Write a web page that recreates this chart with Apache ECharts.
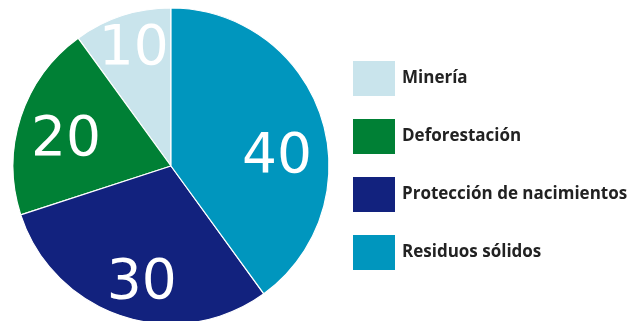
<!DOCTYPE html>
<html><head><meta charset="utf-8">
<script src="https://cdn.jsdelivr.net/npm/echarts@6/dist/echarts.min.js"></script>
<style>html,body{margin:0;padding:0;background:#fff}#c{width:639px;height:321px}</style>
</head><body><div id="c"></div>
<script>
const categories = ["Minería", "Deforestación", "Protección de nacimientos", "Residuos sólidos"];
const values = [10, 20, 30, 40];
const colors = ["#C9E4EC", "#008035", "#12227E", "#0096BE"];
const labelOffsets = [[-12, -38], [-27, 0], [-4, 40], [28, 17]];

const chart = echarts.init(document.getElementById('c'), null, {renderer: 'canvas'});
chart.setOption({
  animation: false,
  legend: {
    orient: 'vertical', left: 346, top: 54,
    itemWidth: 44, itemHeight: 37, itemGap: 19,
    icon: 'rect',
    data: categories,
    textStyle: {fontFamily: 'Open Sans', fontWeight: 'bold', fontSize: 17, color: '#222', padding: [0,0,0,1]}
  },
  series: [{
    type: 'pie',
    center: [171, 166], radius: [0, 158],
    startAngle: 90, clockwise: false,
    itemStyle: {borderColor: '#fff', borderWidth: 1.2},
    label: {show: true, position: 'inside', formatter: '{c}', color: '#fff',
      fontFamily: 'DejaVu Sans', fontSize: 55, fontWeight: 'normal'},
    labelLine: {show: false},
    emphasis: {disabled: true},
    data: categories.map((n, i) => ({name: n, value: values[i], itemStyle: {color: colors[i]},
      label: {offset: labelOffsets[i]}}))
  }]
});
</script></body></html>
